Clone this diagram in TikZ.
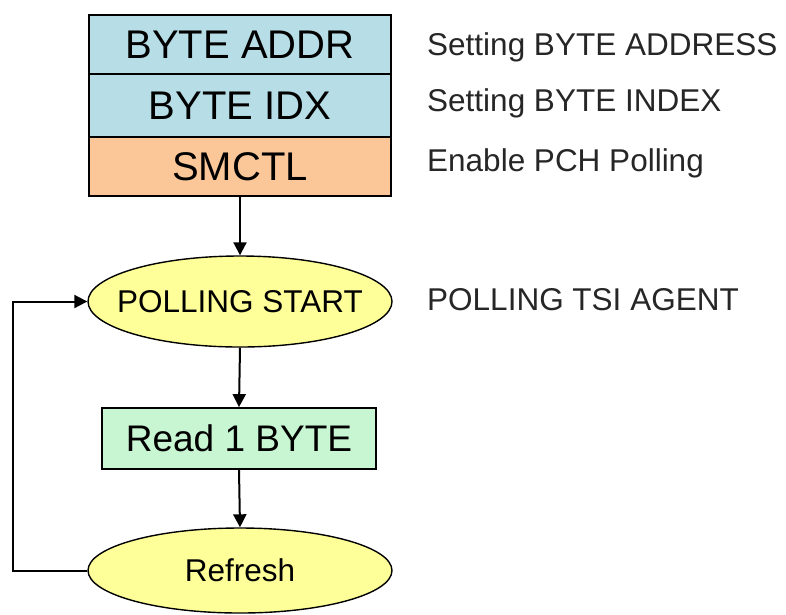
\documentclass[tikz,border=0pt]{standalone}
\usepackage{fontspec}
\setmainfont{Liberation Sans}
\usetikzlibrary{shapes.geometric,arrows.meta}
\definecolor{cblue}{RGB}{183,221,230}
\definecolor{corange}{RGB}{251,199,153}
\definecolor{cgreen}{RGB}{200,245,210}
\definecolor{cyellow}{RGB}{255,255,153}
\tikzset{
  stackbox/.style={draw=black, line width=1.8pt, rectangle, minimum width=302pt, inner sep=0pt, font=\fontsize{40}{40}\selectfont, anchor=north},
  oval/.style={draw=black, line width=1.4pt, ellipse, fill=cyellow, minimum width=304pt, inner sep=0pt},
  ovaltext/.style={font=\fontsize{31.5}{31.5}\selectfont, inner sep=0pt},
  note/.style={anchor=west, inner sep=0pt, font=\fontsize{31.5}{31.5}\selectfont, text=black!85},
  conn/.style={line width=2pt, -{Triangle[length=13pt,width=13pt]}}
}
\begin{document}
\begin{tikzpicture}[x=1pt,y=-1pt]
\useasboundingbox (0,0) rectangle (786,614);
\node[stackbox, fill=cblue, minimum height=59pt] (addr) at (240,14) {BYTE ADDR};
\node[stackbox, fill=cblue, minimum height=63pt] (idx) at (240,73) {BYTE IDX};
\node[stackbox, fill=corange, minimum height=59pt] (smctl) at (240,136) {SMCTL};
\node[oval, minimum height=91pt, label={[ovaltext]center:POLLING START}] (start) at (240,301.5) {};
\node[draw=black, line width=1.8pt, fill=cgreen, minimum width=274pt, minimum height=61pt, inner sep=0pt, font=\fontsize{37}{37}\selectfont] (read) at (239,438.5) {Read 1 BYTE};
\node[oval, minimum height=85pt, label={[ovaltext]center:Refresh}] (refresh) at (240,570.5) {};
\node[note] (n1) at (427,47) {Setting BYTE ADDRESS};
\node[note] (n2) at (427,103) {Setting BYTE INDEX};
\node[note] (n3) at (427,163) {Enable PCH Polling};
\node[note] (n4) at (427,300) {POLLING TSI AGENT};
\draw[conn] (smctl.south) -- (start.north);
\draw[conn] (start.south) -- (read.north);
\draw[conn] (read.south) -- (refresh.north);
\coordinate (lb) at (13,570.5);
\coordinate (lt) at (13,301.5);
\draw[conn] (refresh.west) -- (lb) -- (lt) -- (start.west);
\end{tikzpicture}
\end{document}
